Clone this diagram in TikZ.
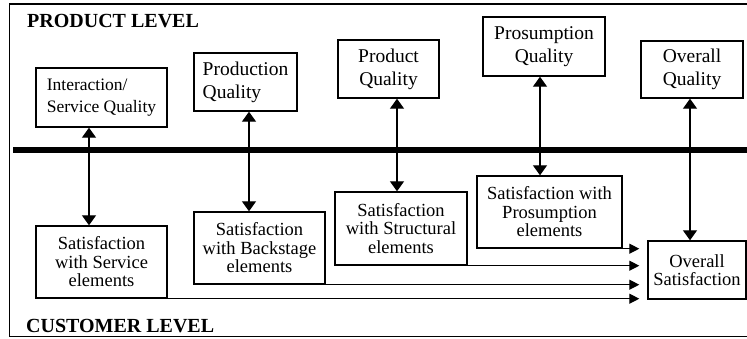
\documentclass[tikz,border=0pt]{standalone}
\usepackage{fontspec}
\setmainfont{Liberation Serif}
\usetikzlibrary{arrows.meta}

\begin{document}
\begin{tikzpicture}[x=1pt,y=-1pt,
  qbox/.style={draw, line width=1.4pt, inner sep=0pt, align=center,
    font=\fontsize{19.5}{23}\selectfont},
  sbox/.style={draw, line width=1.4pt, inner sep=0pt, align=center,
    font=\fontsize{18.5}{18.5}\selectfont},
  level/.style={anchor=base west, inner sep=0pt,
    font=\fontsize{20}{24}\selectfont\bfseries},
  link/.style={line width=1.3pt, {Triangle[width=14pt,length=10pt]}-{Triangle[width=14pt,length=10pt]}},
  feed/.style={line width=1.2pt, -{Triangle[width=10pt,length=10pt]}, shorten >=8pt},
]
\useasboundingbox (0,0) rectangle (747,338);

% frame (open on the right) and the dividing bar
\draw[line width=1.2pt] (747,4) -- (9.5,4) -- (9.5,336.5) -- (747,336.5);
\draw[line width=6pt] (13,150) -- (747,150);

\node[level] (plevel) at (27,27) {PRODUCT LEVEL};
\node[level] (clevel) at (26,332) {CUSTOMER LEVEL};

% quality constructs (product level)
\node[qbox, align=left, font=\fontsize{17.5}{22}\selectfont,
      minimum width=131pt, minimum height=59pt] (iq) at (101.5,97.5)
      {Interaction/\\Service Quality};
\node[qbox, align=left, minimum width=103pt, minimum height=58pt] (prq) at (245.5,82)
      {Production\\Quality};
\node[qbox, minimum width=101pt, minimum height=58pt] (pdq) at (388.5,69)
      {Product\\Quality};
\node[qbox, minimum width=122pt, minimum height=59pt] (psq) at (544,46.5)
      {Prosumption\\Quality};
\node[qbox, minimum width=102pt, minimum height=57pt] (oq) at (692,69.5)
      {Overall\\Quality};

% satisfaction constructs (customer level)
\node[sbox, minimum width=131pt, minimum height=72pt] (ss) at (101.5,262)
      {Satisfaction\\with Service\\elements};
\node[sbox, minimum width=131pt, minimum height=72pt] (sb) at (259.5,248)
      {Satisfaction\\with Backstage\\elements};
\node[sbox, minimum width=132pt, minimum height=73pt] (st) at (401,228.5)
      {Satisfaction\\with Structural\\elements};
\node[sbox, minimum width=145pt, minimum height=72pt] (sp) at (549.5,212)
      {Satisfaction with\\Prosumption\\elements};
\node[sbox, minimum width=98pt, minimum height=58pt] (os) at (697,270)
      {Overall\\Satisfaction};

% x positions of the vertical links
\coordinate (xa) at (89,0);
\coordinate (xb) at (249,0);
\coordinate (xc) at (397,0);
\coordinate (xd) at (540,0);
\coordinate (xe) at (690,0);

\draw[link] (iq.south -| xa) -- (ss.north -| xa);
\draw[link] (prq.south -| xb) -- (sb.north -| xb);
\draw[link] (pdq.south -| xc) -- (st.north -| xc);
\draw[link] (psq.south -| xd) -- (sp.north -| xd);
\draw[link] (oq.south -| xe) -- (os.north -| xe);

% element satisfactions feeding overall satisfaction
\draw[feed] (sp.south east) -- (os.west |- sp.south east);
\draw[feed] (st.south east) -- (os.west |- st.south east);
\draw[feed] (sb.south east) -- (os.west |- sb.south east);
\draw[feed] (ss.south east) -- (os.west |- ss.south east);
\end{tikzpicture}
\end{document}
